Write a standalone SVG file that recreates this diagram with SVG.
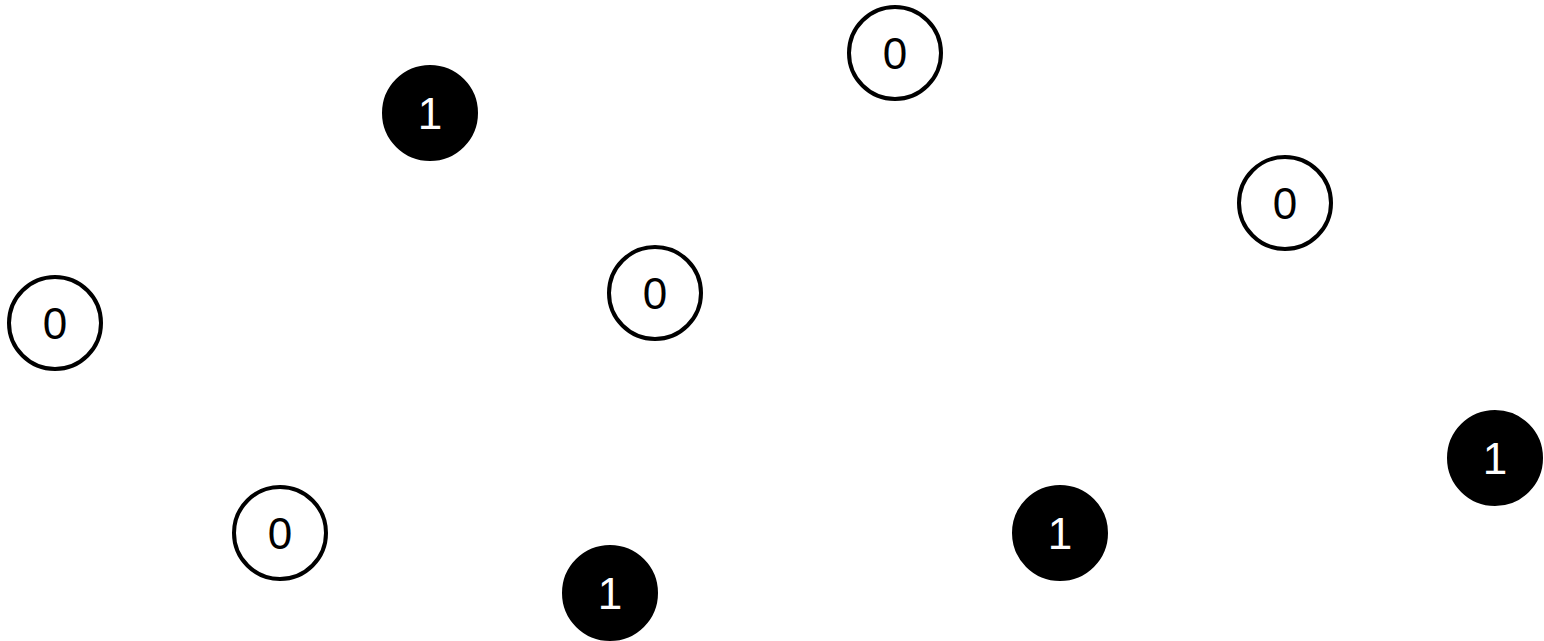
<svg xmlns="http://www.w3.org/2000/svg" width="1544" height="641" viewBox="0 0 1544 641">
<style>
.n0 circle{fill:#fff;stroke:#000;stroke-width:4}
.n1 circle{fill:#000;stroke:#000;stroke-width:4}
text{font-family:"Liberation Sans",Arial,sans-serif;font-size:44px;text-anchor:middle}
.n0 text{fill:#000}
.n1 text{fill:#fff}
</style>
<rect width="1544" height="641" fill="#fff"/>
<g id="connectors"></g>
<g id="n1" class="n1"><circle cx="430" cy="113" r="46"/><text x="430" y="129">1</text></g>
<g id="n2" class="n0"><circle cx="895" cy="53" r="46"/><text x="895" y="69">0</text></g>
<g id="n3" class="n0"><circle cx="1285" cy="203" r="46"/><text x="1285" y="219">0</text></g>
<g id="n4" class="n0"><circle cx="655" cy="293" r="46"/><text x="655" y="309">0</text></g>
<g id="n5" class="n0"><circle cx="55" cy="323" r="46"/><text x="55" y="339">0</text></g>
<g id="n6" class="n1"><circle cx="1495" cy="458" r="46"/><text x="1495" y="474">1</text></g>
<g id="n7" class="n1"><circle cx="1060" cy="533" r="46"/><text x="1060" y="549">1</text></g>
<g id="n8" class="n0"><circle cx="280" cy="533" r="46"/><text x="280" y="549">0</text></g>
<g id="n9" class="n1"><circle cx="610" cy="593" r="46"/><text x="610" y="609">1</text></g>
</svg>
